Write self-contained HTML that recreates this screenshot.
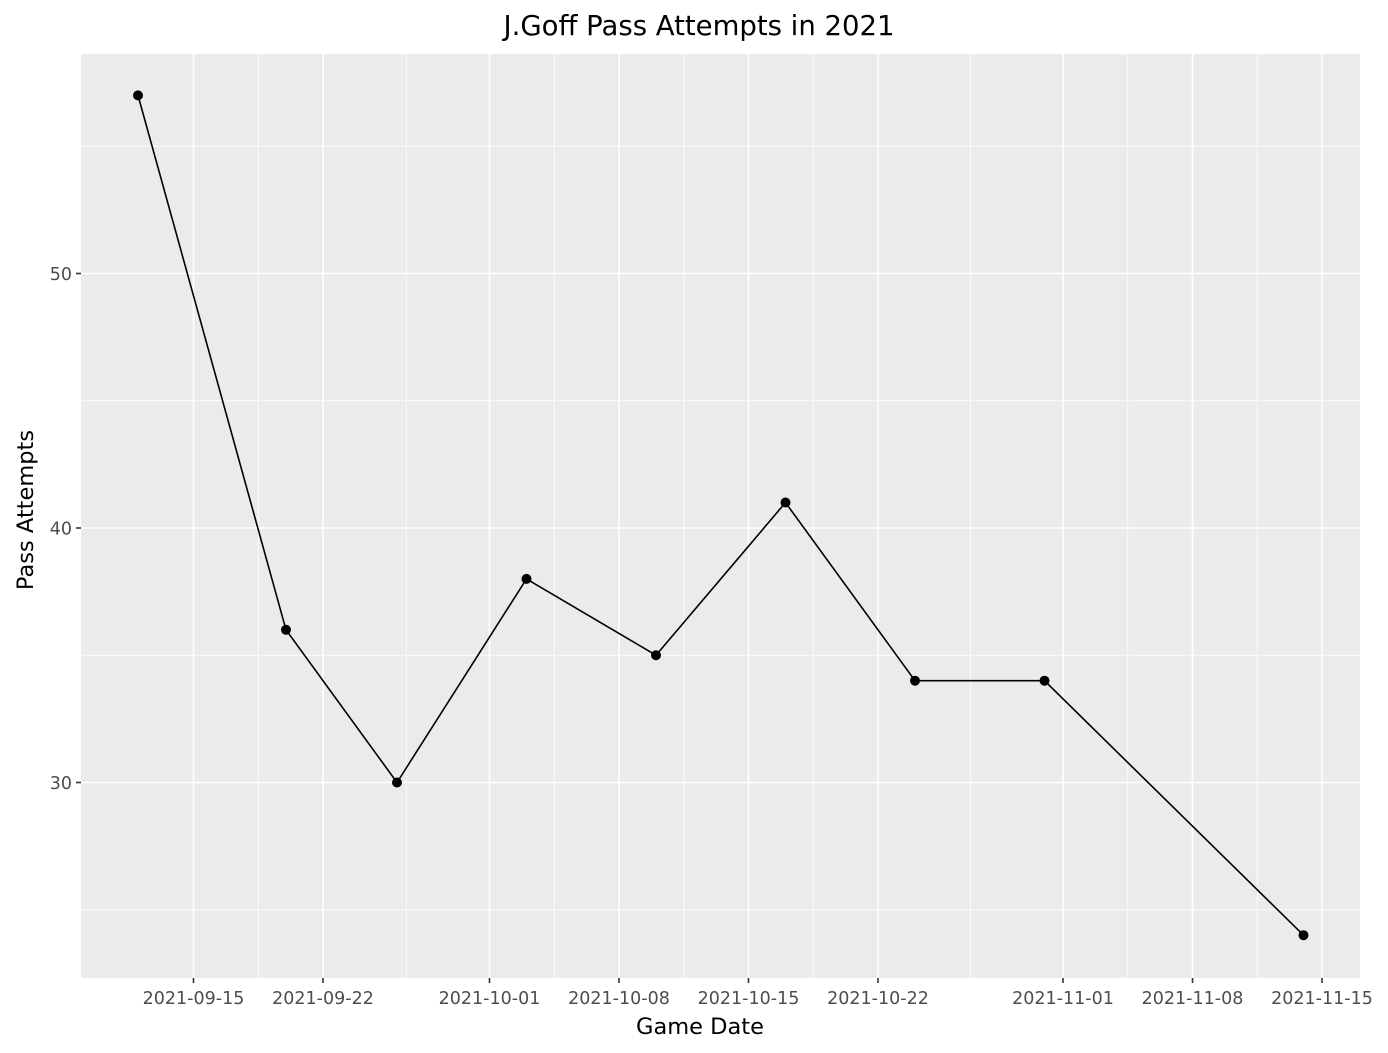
<!DOCTYPE html>
<html><head><meta charset="utf-8"><style>body{margin:0;background:#fff}svg{display:block;font-family:"DejaVu Sans","Liberation Sans",sans-serif}</style></head>
<body>
<svg id="chart" width="1388" height="1053"></svg>
<script>
const dates=["2021-09-12","2021-09-20","2021-09-26","2021-10-03","2021-10-10","2021-10-17","2021-10-24","2021-10-31","2021-11-14"];
const attempts=[57,36,30,38,35,41,34,34,24];
const xTicks=["2021-09-15","2021-09-22","2021-10-01","2021-10-08","2021-10-15","2021-10-22","2021-11-01","2021-11-08","2021-11-15"];
const yTicks=[30,40,50];
const yMinor=[25,35,45,55];

const NS="http://www.w3.org/2000/svg";
const svg=document.getElementById('chart');
const L=81,R=1360,T=54,B=978;
const day=86400000;
const t0=Date.parse("2021-09-15");
function x(d){return 193.5+(Date.parse(d)-t0)/day*(129.5/7);}
function y(v){return 782.5-(v-30)*25.45;}
function el(tag,attrs,parent){const e=document.createElementNS(NS,tag);for(const k in attrs)e.setAttribute(k,attrs[k]);(parent||svg).appendChild(e);return e;}

const bg=el('rect',{x:L,y:T,width:R-L,height:B-T,fill:'#ebebeb'});



yMinor.forEach(v=>{const g=el('line',{x1:L,x2:R,y1:y(v),y2:y(v),stroke:'#fff','stroke-width':0.8});

});
for(let i=0;i<xTicks.length-1;i++){const m=(x(xTicks[i])+x(xTicks[i+1]))/2;
const g=el('line',{x1:m,x2:m,y1:T,y2:B,stroke:'#fff','stroke-width':0.8});

}
yTicks.forEach(v=>{const g=el('line',{x1:L,x2:R,y1:y(v),y2:y(v),stroke:'#fff','stroke-width':1.6});


const tk=el('line',{x1:L-5,x2:L,y1:y(v),y2:y(v),stroke:'#333','stroke-width':1.6});


const t=el('text',{x:L-9,y:y(v)+6.5,'text-anchor':'end','font-size':17.5,fill:'#4d4d4d'});t.textContent=v;

});
xTicks.forEach(d=>{const g=el('line',{x1:x(d),x2:x(d),y1:T,y2:B,stroke:'#fff','stroke-width':1.6});


const tk=el('line',{x1:x(d),x2:x(d),y1:B,y2:B+5,stroke:'#333','stroke-width':1.6});


const t=el('text',{x:x(d),y:B+26,'text-anchor':'middle','font-size':17.5,fill:'#4d4d4d'});t.textContent=d;

});

const line=el('polyline',{points:dates.map((d,i)=>x(d)+','+y(attempts[i])).join(' '),fill:'none',stroke:'#000','stroke-width':1.6});


dates.forEach((d,i)=>{const c=el('circle',{cx:x(d),cy:y(attempts[i]),r:5,fill:'#000'});

});

const title=el('text',{x:699,y:35,'text-anchor':'middle','font-size':27.5,fill:'#000'});title.textContent='J.Goff Pass Attempts in 2021';


const xt=el('text',{x:700,y:1034,'text-anchor':'middle','font-size':22.5,fill:'#000'});xt.textContent='Game Date';


const yt=el('text',{x:0,y:0,'text-anchor':'middle','font-size':22.5,fill:'#000',transform:'translate(33,510) rotate(-90)'});yt.textContent='Pass Attempts';


</script>
</body></html>
